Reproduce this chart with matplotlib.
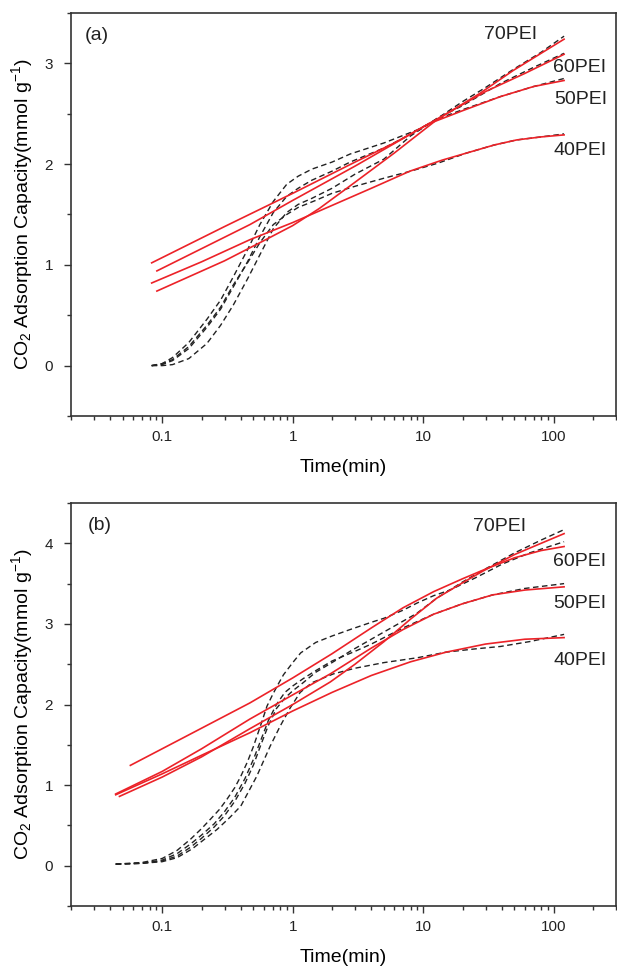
import matplotlib
matplotlib.use("Agg")
import matplotlib.pyplot as plt
from matplotlib.ticker import LogLocator, MultipleLocator, FixedLocator, NullFormatter, FuncFormatter

plt.rcParams['font.family'] = ['Liberation Sans', 'DejaVu Sans']
plt.rcParams['mathtext.default'] = 'regular'

samples = ["40PEI", "50PEI", "60PEI", "70PEI"]

# ---------------- panel (a) ----------------
# experimental (dashed)
a_exp_x = {
    "40PEI": [0.083, 0.1, 0.12, 0.16, 0.22, 0.28, 0.35, 0.45, 0.56, 0.71, 0.9, 1.1, 1.5, 2.0, 3.0, 5, 8, 13, 21.5, 35, 52, 80, 120],
    "50PEI": [0.083, 0.1, 0.12, 0.16, 0.22, 0.28, 0.35, 0.45, 0.56, 0.71, 0.9, 1.1, 1.4, 2.0, 2.75, 5, 9, 13, 20, 39, 70, 120],
    "60PEI": [0.083, 0.1, 0.12, 0.16, 0.22, 0.28, 0.35, 0.45, 0.56, 0.71, 0.9, 1.1, 1.4, 2.0, 2.75, 5, 9, 13, 20, 39, 70, 120],
    "70PEI": [0.083, 0.1, 0.12, 0.16, 0.22, 0.28, 0.35, 0.45, 0.56, 0.71, 0.9, 1.1, 1.4, 2.0, 3.0, 5, 8, 12.7, 20, 30, 49, 80, 120],
}
a_exp_y = {
    "40PEI": [0.0, 0.02, 0.06, 0.19, 0.40, 0.58, 0.80, 1.02, 1.22, 1.40, 1.50, 1.57, 1.64, 1.71, 1.78, 1.86, 1.93, 2.01, 2.11, 2.19, 2.24, 2.27, 2.30],
    "50PEI": [0.0, 0.02, 0.08, 0.23, 0.46, 0.65, 0.88, 1.15, 1.40, 1.63, 1.80, 1.88, 1.95, 2.02, 2.10, 2.21, 2.34, 2.45, 2.54, 2.67, 2.77, 2.85],
    "60PEI": [0.0, 0.01, 0.05, 0.17, 0.38, 0.56, 0.78, 1.03, 1.28, 1.52, 1.68, 1.76, 1.84, 1.93, 2.02, 2.16, 2.33, 2.46, 2.58, 2.80, 2.96, 3.10],
    "70PEI": [0.0, 0.0, 0.01, 0.07, 0.22, 0.40, 0.60, 0.86, 1.10, 1.36, 1.52, 1.60, 1.66, 1.76, 1.90, 2.05, 2.28, 2.45, 2.62, 2.76, 2.94, 3.11, 3.27],
}
# fitted (red)
a_fit_x = {
    "40PEI": [0.083, 0.2, 0.47, 1.0, 2.0, 4.0, 7.9, 14, 21.5, 35, 52, 80, 120],
    "50PEI": [0.083, 0.3, 1, 3, 6, 11, 20, 39, 70, 120],
    "60PEI": [0.091, 0.47, 1, 3, 11, 30, 60, 120],
    "70PEI": [0.091, 0.3, 0.6, 1.0, 1.6, 3, 6, 12.7, 27, 49, 80, 120],
}
a_fit_y = {
    "40PEI": [0.82, 1.03, 1.25, 1.42, 1.59, 1.76, 1.93, 2.04, 2.11, 2.19, 2.24, 2.27, 2.29],
    "50PEI": [1.02, 1.38, 1.71, 2.02, 2.21, 2.40, 2.53, 2.67, 2.77, 2.83],
    "60PEI": [0.94, 1.40, 1.64, 1.98, 2.40, 2.72, 2.90, 3.09],
    "70PEI": [0.74, 1.04, 1.24, 1.39, 1.56, 1.82, 2.11, 2.44, 2.70, 2.93, 3.10, 3.24],
}

# ---------------- panel (b) ----------------
b_exp_x = {
    "40PEI": [0.044, 0.07, 0.1, 0.13, 0.17, 0.2, 0.263, 0.33, 0.40, 0.53, 0.67, 0.8, 0.95, 1.14, 1.4, 2.05, 3, 5, 9, 15, 25, 39, 65, 120],
    "50PEI": [0.044, 0.07, 0.1, 0.13, 0.165, 0.2, 0.25, 0.3, 0.36, 0.43, 0.5, 0.57, 0.65, 0.75, 0.87, 1.0, 1.2, 1.5, 2.0, 3, 4, 7, 12, 20, 34, 60, 120],
    "60PEI": [0.044, 0.07, 0.1, 0.13, 0.165, 0.2, 0.235, 0.275, 0.315, 0.36, 0.4, 0.45, 0.5, 0.57, 0.635, 0.7, 0.76, 0.85, 1.0, 1.15, 1.5, 2.0, 2.75, 4.0, 5.0, 7.0, 9.0, 12, 16, 25, 40, 65, 120],
    "70PEI": [0.044, 0.07, 0.1, 0.13, 0.165, 0.2, 0.25, 0.3, 0.36, 0.43, 0.5, 0.57, 0.65, 0.75, 0.87, 1.0, 1.2, 1.5, 2.0, 2.75, 5, 8.9, 12.7, 20, 29, 50, 80, 120],
}
b_exp_y = {
    "40PEI": [0.02, 0.03, 0.05, 0.10, 0.21, 0.30, 0.45, 0.60, 0.74, 1.11, 1.48, 1.73, 1.95, 2.15, 2.27, 2.38, 2.45, 2.52, 2.58, 2.65, 2.69, 2.72, 2.78, 2.87],
    "50PEI": [0.02, 0.03, 0.07, 0.15, 0.27, 0.38, 0.52, 0.67, 0.85, 1.08, 1.32, 1.56, 1.80, 2.00, 2.15, 2.23, 2.32, 2.42, 2.54, 2.66, 2.75, 2.95, 3.12, 3.25, 3.36, 3.44, 3.50],
    "60PEI": [0.02, 0.04, 0.09, 0.19, 0.33, 0.46, 0.58, 0.70, 0.83, 0.97, 1.11, 1.29, 1.48, 1.75, 1.98, 2.12, 2.23, 2.37, 2.52, 2.64, 2.77, 2.85, 2.93, 3.02, 3.07, 3.17, 3.26, 3.35, 3.42, 3.57, 3.74, 3.88, 4.02],
    "70PEI": [0.02, 0.03, 0.06, 0.12, 0.23, 0.34, 0.48, 0.62, 0.80, 1.02, 1.25, 1.50, 1.74, 1.95, 2.08, 2.17, 2.27, 2.40, 2.52, 2.66, 2.90, 3.13, 3.32, 3.52, 3.67, 3.88, 4.04, 4.17],
}
b_fit_x = {
    "40PEI": [0.044, 0.1, 0.2, 0.47, 1, 2, 4, 8, 15, 30, 60, 120],
    "50PEI": [0.044, 0.1, 0.2, 0.47, 1, 1.94, 4, 7, 12, 20, 34, 60, 120],
    "60PEI": [0.057, 0.15, 0.47, 1, 2, 4, 7, 12, 20, 30, 50, 80, 120],
    "70PEI": [0.047, 0.1, 0.2, 0.47, 1, 1.94, 3, 5, 8, 12.7, 20, 29, 50, 80, 120],
}
b_fit_y = {
    "40PEI": [0.88, 1.14, 1.37, 1.65, 1.92, 2.15, 2.36, 2.53, 2.65, 2.75, 2.81, 2.83],
    "50PEI": [0.89, 1.17, 1.45, 1.82, 2.12, 2.38, 2.70, 2.93, 3.12, 3.25, 3.36, 3.42, 3.46],
    "60PEI": [1.245, 1.60, 2.02, 2.33, 2.63, 2.95, 3.20, 3.40, 3.56, 3.68, 3.82, 3.91, 3.96],
    "70PEI": [0.86, 1.10, 1.35, 1.70, 2.00, 2.28, 2.50, 2.78, 3.06, 3.32, 3.51, 3.66, 3.86, 4.00, 4.12],
}

a_label_pos = {"70PEI": (47, 3.29), "60PEI": (158, 2.96), "50PEI": (161, 2.64), "40PEI": (158, 2.14)}
b_label_pos = {"70PEI": (38.4, 4.21), "60PEI": (158, 3.78), "50PEI": (158, 3.25), "40PEI": (158, 2.54)}

fig = plt.figure(figsize=(6.17, 9.69), dpi=100)
ax_a = fig.add_axes([0.1151, 0.5707, 0.8833, 0.4159])
ax_b = fig.add_axes([0.1151, 0.0650, 0.8833, 0.4159])

spine_c = '#333333'

def style(ax, ylim, yticks, tag, tagpos):
    ax.set_xscale('log')
    ax.set_xlim(0.02, 300)
    ax.set_ylim(*ylim)
    ax.xaxis.set_major_locator(FixedLocator([0.1, 1, 10, 100]))
    ax.xaxis.set_major_formatter(FuncFormatter(lambda v, p: {0.1: '0.1', 1: '1', 10: '10', 100: '100'}.get(round(v, 3), '')))
    ax.xaxis.set_minor_locator(LogLocator(base=10, subs=range(2, 10), numticks=20))
    ax.xaxis.set_minor_formatter(NullFormatter())
    ax.yaxis.set_major_locator(FixedLocator(yticks))
    ax.yaxis.set_minor_locator(MultipleLocator(0.5))
    ax.tick_params(which='both', direction='out', colors=spine_c, labelcolor='#222222',
                   top=False, right=False, width=1.0)
    ax.tick_params(which='major', length=5, labelsize=11)
    ax.tick_params(axis='y', which='major', pad=8)
    ax.tick_params(axis='x', which='major', pad=5)
    ax.tick_params(which='minor', length=3)
    for s in ax.spines.values():
        s.set_color(spine_c)
        s.set_linewidth(1.2)
    ax.set_xlabel('Time(min)', fontsize=14)
    ax.set_ylabel('CO$_2$ Adsorption Capacity(mmol g$^{-1}$)', fontsize=14)
    ax.xaxis.set_label_coords(0.5, -0.107)
    ax.yaxis.set_label_coords(-0.067, 0.5)
    ax.text(tagpos[0], tagpos[1], tag, transform=ax.transAxes, fontsize=14,
            ha='center', va='center', color='#222222')

def draw(ax, ex, ey, fx, fy, lp):
    for s in samples:
        ax.plot(ex[s], ey[s], color='#222222', lw=1.0, ls=(0, (4, 2.5)))
    for s in samples:
        ax.plot(fx[s], fy[s], color='#ec2228', lw=1.2)
    for s in samples:
        ax.text(lp[s][0], lp[s][1], s, fontsize=14, ha='center', va='center', color='#222222')

draw(ax_a, a_exp_x, a_exp_y, a_fit_x, a_fit_y, a_label_pos)
draw(ax_b, b_exp_x, b_exp_y, b_fit_x, b_fit_y, b_label_pos)
style(ax_a, (-0.5, 3.5), [0, 1, 2, 3], '(a)', (0.047, 0.945))
style(ax_b, (-0.5, 4.5), [0, 1, 2, 3, 4], '(b)', (0.052, 0.943))

fig.savefig('out.png', dpi=100, facecolor='white')
